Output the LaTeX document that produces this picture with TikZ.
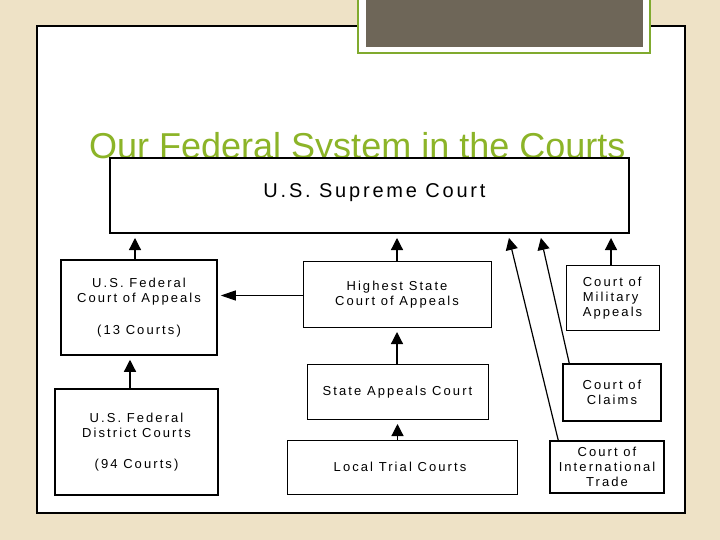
\documentclass[tikz,border=0pt]{standalone}
\usepackage{fontspec}
\setmainfont{Liberation Sans}
\newfontfamily\spaced[LetterSpace=16]{Liberation Sans}
\newfontfamily\spacedbig[LetterSpace=14]{Liberation Sans}
\usetikzlibrary{arrows.meta,calc}
\definecolor{parch}{RGB}{238,226,198}
\definecolor{titlegreen}{RGB}{140,180,40}
\definecolor{framegreen}{RGB}{128,170,46}
\definecolor{darkbox}{RGB}{110,102,88}
\begin{document}
\begin{tikzpicture}[x=1bp,y=-1bp,
  court/.style={draw, fill=white, inner sep=0pt, align=center,
    font=\spaced\fontsize{13bp}{15bp}\selectfont, line width=1bp},
  arr/.style={line width=1.2bp, -{Triangle[width=12bp,length=12bp]}, shorten >=4bp},
  larr/.style={line width=1.2bp, -{Triangle[width=10bp,length=15bp]}, shorten >=3bp}]
\fill[parch] (0,0) rectangle (720,540);
\useasboundingbox (0,0) rectangle (720,540);
% slide panel
\draw[fill=white, line width=1.2bp] (37,26) rectangle (685,513);
% top decoration box
\draw[framegreen, fill=white, line width=2.5bp] (358,-10) rectangle (650,53);
\fill[darkbox] (366,-10) rectangle (643,47);
% title
\node[anchor=base west, text=titlegreen, inner sep=0pt,
  font=\fontsize{36bp}{40bp}\selectfont] (title) at (89,159) {Our Federal System in the Courts};
% courts
\node[court, line width=2bp, minimum width=519bp, minimum height=75bp] (sup) at (369.5,195.5) {};
\node[inner sep=0pt, font=\spacedbig\fontsize{20bp}{22bp}\selectfont] (suptext) at (374.5,193) {U.S. Supreme Court};
\node[court, line width=1.5bp, minimum width=156bp, minimum height=95bp] (fca) at (139,307.5)
  {U.S. Federal\\Court of Appeals\\[17bp](13 Courts)};
\node[court, minimum width=188bp, minimum height=66bp] (hsc) at (397,294.5)
  {Highest State\\Court of Appeals};
\node[court, align=left, minimum width=93bp, minimum height=65bp] (cma) at (612.5,298)
  {Court of\\Military\\Appeals};
\node[court, minimum width=181bp, minimum height=55bp] (sac) at (397.5,392)
  {State Appeals Court};
\node[court, minimum width=230bp, minimum height=54bp] (ltc) at (402,467)
  {\hspace{-4bp}Local Trial Courts};
\node[court, line width=2bp, minimum width=163bp, minimum height=106bp] (fdc) at (136.5,442)
  {U.S. Federal\\District Courts\\[16bp](94 Courts)};
\node[court, line width=1.5bp, minimum width=98bp, minimum height=57bp] (coc) at (612,392.5)
  {Court of\\Claims};
\node[court, line width=1.5bp, minimum width=114bp, minimum height=52bp] (cit) at (607,467)
  {Court of\\International\\Trade};
% connectors
\draw[arr] ([xshift=-4bp]fca.north) -- ([xshift=-4bp]fca.north |- sup.south);
\draw[arr] (hsc.north) -- (hsc.north |- sup.south);
\draw[arr] ([xshift=-1.5bp]cma.north) -- ([xshift=-1.5bp]cma.north |- sup.south);
\draw[larr] ([yshift=-1bp]hsc.west) -- ([yshift=-1bp]hsc.west -| fca.east);
\draw[arr] (sac.north -| hsc.south) -- (hsc.south);
\draw[arr] (ltc.north -| sac.south) -- (sac.south);
\draw[arr] ([xshift=-6.5bp]fdc.north) -- ([xshift=-6.5bp]fdc.north |- fca.south);
\draw[arr] ([xshift=7bp]coc.north west) -- ([xshift=-90bp]sup.south east);
\draw[arr] ([xshift=9bp]cit.north west) -- ([xshift=-122bp]sup.south east);
\end{tikzpicture}
\end{document}
